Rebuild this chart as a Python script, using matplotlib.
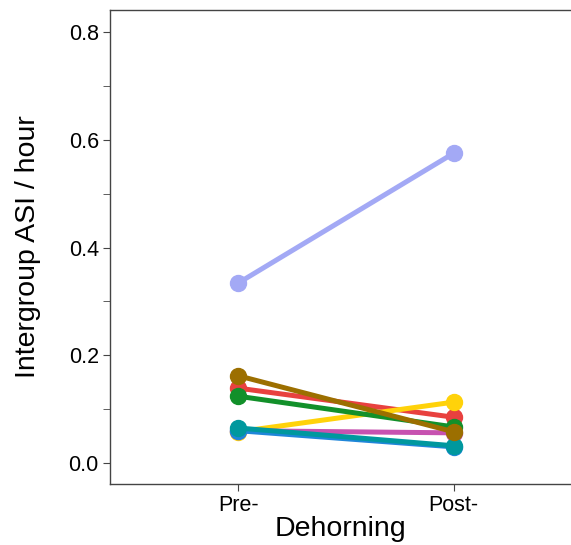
import matplotlib
matplotlib.use("Agg")
import matplotlib.pyplot as plt
from matplotlib.ticker import MultipleLocator

plt.rcParams["font.family"] = ["Liberation Sans", "DejaVu Sans"]

periods = ["Pre-", "Post-"]
colors = ["#a3a9f5", "#e8413f", "#ffd20a", "#12902a", "#c752b0", "#1f86d9", "#00989e", "#9c6f00"]
pre_vals = [0.334, 0.139, 0.058, 0.124, 0.060, 0.060, 0.065, 0.162]
post_vals = [0.575, 0.085, 0.113, 0.067, 0.056, 0.030, 0.032, 0.058]

fig = plt.figure(figsize=(5.71, 5.45), dpi=100)
ax = fig.add_axes([0.1926, 0.1119, 0.8074, 0.8698])

xs = [1, 2]
for c, a, b in zip(colors, pre_vals, post_vals):
    ax.plot(xs, [a, b], color=c, lw=3.6, marker="o", ms=11.5, solid_capstyle="butt")

ax.set_xlim(0.405, 2.545)
ax.set_ylim(-0.039, 0.841)
ax.set_xticks(xs)
ax.set_xticklabels(periods)
ax.yaxis.set_major_locator(MultipleLocator(0.2))
ax.yaxis.set_minor_locator(MultipleLocator(0.1))
ax.yaxis.set_major_formatter(matplotlib.ticker.FormatStrFormatter("%.1f"))

for s in ["top", "bottom", "left"]:
    ax.spines[s].set_color("#444444")
    ax.spines[s].set_linewidth(1.0)
ax.spines["right"].set_visible(False)

ax.tick_params(axis="both", which="major", labelsize=15.5, length=5, color="#444444", pad=3)
ax.tick_params(axis="y", which="minor", length=5, color="#444444")

ax.set_xlabel("Dehorning", fontsize=20.5, labelpad=0)
ax.set_ylabel("Intergroup ASI / hour", fontsize=20.5, labelpad=20)

fig.savefig("out.png", dpi=100)
